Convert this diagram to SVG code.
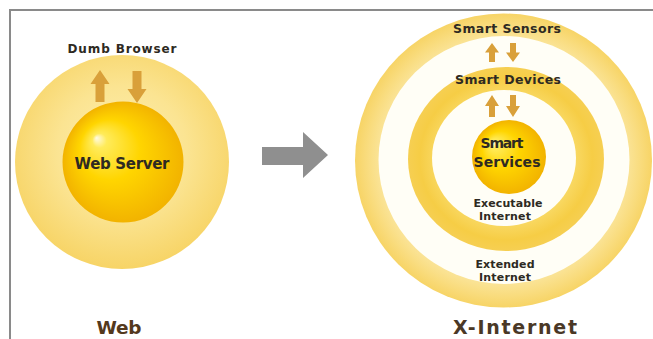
<svg xmlns="http://www.w3.org/2000/svg" width="653" height="339" viewBox="0 0 653 339">
  <style>
    text { font-family: "DejaVu Sans", "Liberation Sans", sans-serif; font-weight: bold; text-anchor: middle; }
    .lbl { fill: #2e2a22; }
    .title { fill: #54391d; }
    .xarrow { fill: #d9a03a; }
    .frame { stroke: #8a8a8a; stroke-width: 2; fill: none; }
  </style>
  <defs>
    <radialGradient id="gLeftOuter" cx="50%" cy="45%" r="55%">
      <stop offset="0%" stop-color="#fdefb2"/>
      <stop offset="55%" stop-color="#fbe492"/>
      <stop offset="100%" stop-color="#f7d466"/>
    </radialGradient>
    <radialGradient id="gBall" cx="50%" cy="50%" r="50%" fx="28%" fy="30%">
      <stop offset="0%" stop-color="#fffbe6"/>
      <stop offset="12%" stop-color="#ffeb5a"/>
      <stop offset="50%" stop-color="#ffd500"/>
      <stop offset="100%" stop-color="#f2b300"/>
    </radialGradient>
    <radialGradient id="gOuterBand" cx="50%" cy="50%" r="50%">
      <stop offset="80%" stop-color="#fbe7a2"/>
      <stop offset="92%" stop-color="#f9dc7e"/>
      <stop offset="100%" stop-color="#f7d466"/>
    </radialGradient>
    <radialGradient id="gMidBand" cx="50%" cy="50%" r="50%">
      <stop offset="70%" stop-color="#f9d964"/>
      <stop offset="88%" stop-color="#f6cd45"/>
      <stop offset="100%" stop-color="#f6cf52"/>
    </radialGradient>
    <path id="arrowBig" d="M0,0 L9.5,14 L4.5,14 L4.5,32 L-4.5,32 L-4.5,14 L-9.5,14 Z"/>
    <path id="arrowSmall" d="M0,0 L7,10 L3,10 L3,20 L-3,20 L-3,10 L-7,10 Z"/>
  </defs>

  <rect x="0" y="0" width="653" height="339" fill="#ffffff"/>
  <path class="frame" d="M10,339 L10,10 L653,10"/>

  <!-- Web (left) -->
  <g id="web-outer">
    <circle cx="122" cy="162" r="107" fill="url(#gLeftOuter)"/>
    <text class="lbl" x="122" y="53" font-size="12" textLength="109" lengthAdjust="spacing">Dumb Browser</text>
  </g>
  <g id="web-server">
    <circle cx="123" cy="162" r="60.5" fill="url(#gBall)"/>
    <text class="lbl" x="122" y="169" font-size="15" textLength="95" lengthAdjust="spacing">Web Server</text>
  </g>
  <g id="web-title">
    <text class="title" x="119" y="334" font-size="18.5" textLength="45" lengthAdjust="spacing">Web</text>
  </g>

  <!-- X-Internet (right) -->
  <g id="extended-internet">
    <ellipse cx="503.5" cy="160.5" rx="148.5" ry="147" fill="url(#gOuterBand)"/>
    <ellipse cx="504" cy="160" rx="125.5" ry="124" fill="#fffef6"/>
    <text class="lbl" x="507" y="33" font-size="12.5" textLength="108" lengthAdjust="spacing">Smart Sensors</text>
    <text class="lbl" x="505" y="268" font-size="11" textLength="59" lengthAdjust="spacing">Extended</text>
    <text class="lbl" x="505" y="281" font-size="11" textLength="52" lengthAdjust="spacing">Internet</text>
  </g>
  <g id="executable-internet">
    <ellipse cx="506" cy="159" rx="98" ry="92" fill="url(#gMidBand)"/>
    <ellipse cx="504" cy="158" rx="72" ry="68" fill="#fffef6"/>
    <text class="lbl" x="508" y="84" font-size="12.5" textLength="106" lengthAdjust="spacing">Smart Devices</text>
    <text class="lbl" x="508" y="207" font-size="11" textLength="69" lengthAdjust="spacing">Executable</text>
    <text class="lbl" x="505" y="220" font-size="11" textLength="52" lengthAdjust="spacing">Internet</text>
  </g>
  <g id="smart-services">
    <circle cx="509" cy="157" r="37" fill="url(#gBall)"/>
    <text class="lbl" x="502" y="148" font-size="14" textLength="43" lengthAdjust="spacing">Smart</text>
    <text class="lbl" x="507" y="167" font-size="14" textLength="67" lengthAdjust="spacing">Services</text>
  </g>
  <g id="x-internet-title">
    <text x="515" y="334" font-size="19" textLength="124" lengthAdjust="spacing" style="fill:#4a3826">X-Internet</text>
  </g>

  <!-- connectors -->
  <g id="connectors">
    <use href="#arrowBig" class="xarrow" transform="translate(100,70)"/>
    <use href="#arrowBig" class="xarrow" transform="translate(137,103) rotate(180)"/>
    <use href="#arrowSmall" class="xarrow" transform="translate(492,43) scale(1,0.95)"/>
    <use href="#arrowSmall" class="xarrow" transform="translate(513,62) rotate(180) scale(1,0.95)"/>
    <use href="#arrowSmall" class="xarrow" transform="translate(492,95) scale(1,1.1)"/>
    <use href="#arrowSmall" class="xarrow" transform="translate(513,117) rotate(180) scale(1,1.1)"/>
    <path d="M262,147 L303,147 L303,132 L328,155 L303,178 L303,165 L262,165 Z" fill="#8f8f8f"/>
  </g>
</svg>
